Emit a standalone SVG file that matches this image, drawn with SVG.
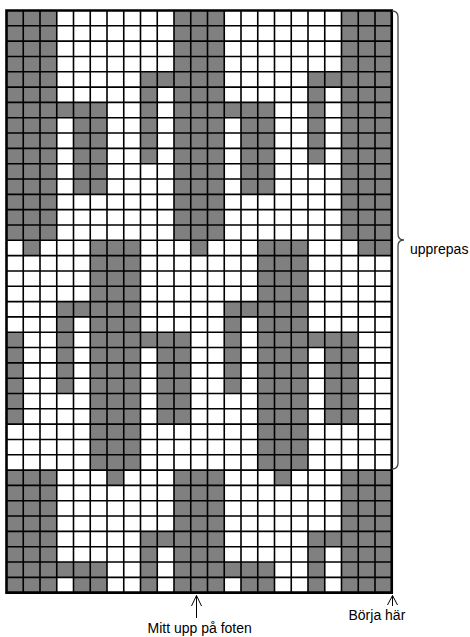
<svg xmlns="http://www.w3.org/2000/svg" width="470" height="637" viewBox="0 0 470 637">
<style>
.g{fill:#808080}
.grid{fill:none;stroke:#000;stroke-width:1.6}
.border{fill:none;stroke:#000;stroke-width:2.6}
.lbl{font-family:"Liberation Sans",Arial,sans-serif;font-size:14px;fill:#000}
.ln{fill:none;stroke:#000;stroke-width:1}
.br{fill:none;stroke:#444;stroke-width:1.3}
</style>
<rect width="470" height="637" fill="#fff"/>
<g id="chart" transform="translate(6.5,10.5) scale(16.75,15.32)">
<rect x="0" y="0" width="23" height="38" fill="#fff"/>
<rect class="g" x="0" y="0" width="3" height="15"/>
<rect class="g" x="10" y="0" width="3" height="15"/>
<rect class="g" x="20" y="0" width="3" height="15"/>
<rect class="g" x="8" y="4" width="2" height="1"/>
<rect class="g" x="18" y="4" width="2" height="1"/>
<rect class="g" x="8" y="4" width="1" height="6"/>
<rect class="g" x="18" y="4" width="1" height="6"/>
<rect class="g" x="3" y="6" width="3" height="1"/>
<rect class="g" x="13" y="6" width="3" height="1"/>
<rect class="g" x="4" y="6" width="2" height="6"/>
<rect class="g" x="14" y="6" width="2" height="6"/>
<rect class="g" x="1" y="15" width="1" height="1"/>
<rect class="g" x="11" y="15" width="1" height="1"/>
<rect class="g" x="21" y="15" width="2" height="1"/>
<rect class="g" x="5" y="15" width="3" height="15"/>
<rect class="g" x="15" y="15" width="3" height="15"/>
<rect class="g" x="3" y="19" width="2" height="1"/>
<rect class="g" x="13" y="19" width="2" height="1"/>
<rect class="g" x="3" y="19" width="1" height="6"/>
<rect class="g" x="13" y="19" width="1" height="6"/>
<rect class="g" x="8" y="21" width="3" height="1"/>
<rect class="g" x="18" y="21" width="3" height="1"/>
<rect class="g" x="9" y="21" width="2" height="6"/>
<rect class="g" x="19" y="21" width="2" height="6"/>
<rect class="g" x="0" y="21" width="1" height="6"/>
<rect class="g" x="0" y="30" width="3" height="8"/>
<rect class="g" x="10" y="30" width="3" height="8"/>
<rect class="g" x="20" y="30" width="3" height="8"/>
<rect class="g" x="6" y="30" width="1" height="1"/>
<rect class="g" x="16" y="30" width="1" height="1"/>
<rect class="g" x="8" y="34" width="2" height="1"/>
<rect class="g" x="18" y="34" width="2" height="1"/>
<rect class="g" x="8" y="34" width="1" height="4"/>
<rect class="g" x="18" y="34" width="1" height="4"/>
<rect class="g" x="3" y="36" width="3" height="1"/>
<rect class="g" x="13" y="36" width="3" height="1"/>
<rect class="g" x="4" y="36" width="2" height="2"/>
<rect class="g" x="14" y="36" width="2" height="2"/>
<path class="grid" vector-effect="non-scaling-stroke" d="M1 0V38M2 0V38M3 0V38M4 0V38M5 0V38M6 0V38M7 0V38M8 0V38M9 0V38M10 0V38M11 0V38M12 0V38M13 0V38M14 0V38M15 0V38M16 0V38M17 0V38M18 0V38M19 0V38M20 0V38M21 0V38M22 0V38M0 1H23M0 2H23M0 3H23M0 4H23M0 5H23M0 6H23M0 7H23M0 8H23M0 9H23M0 10H23M0 11H23M0 12H23M0 13H23M0 14H23M0 15H23M0 16H23M0 17H23M0 18H23M0 19H23M0 20H23M0 21H23M0 22H23M0 23H23M0 24H23M0 25H23M0 26H23M0 27H23M0 28H23M0 29H23M0 30H23M0 31H23M0 32H23M0 33H23M0 34H23M0 35H23M0 36H23M0 37H23"/>
<rect class="border" vector-effect="non-scaling-stroke" x="0" y="0" width="23" height="38"/>
</g>
<g id="connectors">
<path class="br" d="M392 11 Q398 11 398 17 V234 Q398 240 404 240 Q398 240 398 246 V463 Q398 469 392 469"/>
<path class="ln" d="M196.5 618 V595.5 M191.5 606 L196.5 595.5 L201.5 606"/>
<path class="ln" d="M392.5 606 V595.5 M387.5 605 L392.5 595.5 L397.5 605"/>
</g>
<g id="labels">
<text class="lbl" x="410" y="254">upprepas</text>
<text class="lbl" x="348.5" y="620">Börja här</text>
<text class="lbl" x="147.5" y="633">Mitt upp på foten</text>
</g>
</svg>
